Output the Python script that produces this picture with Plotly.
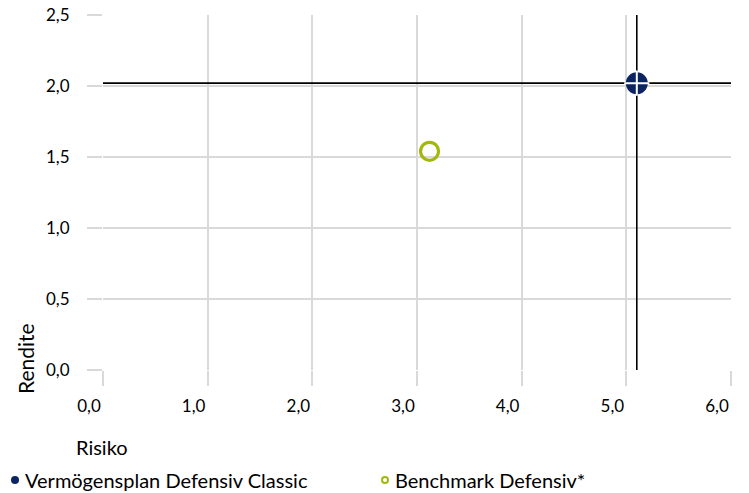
import plotly.graph_objects as go

series_names = ["Vermögensplan Defensiv Classic", "Benchmark Defensiv*"]
risiko = [5.10, 3.12]
rendite = [2.02, 1.54]
colors = ["#0c2461", "#a4b70c"]
x_ticks = [0, 1, 2, 3, 4, 5, 6]
x_ticklabels = ["0,0", "1,0", "2,0", "3,0", "4,0", "5,0", "6,0"]
y_ticks = [0, 0.5, 1.0, 1.5, 2.0, 2.5]
y_ticklabels = ["0,0", "0,5", "1,0", "1,5", "2,0", "2,5"]
x_range = [0, 6]
y_range = [0, 2.5]

FONT = "Lato"
fig = go.Figure()

# crosshair via error bars for main series
fig.add_trace(go.Scatter(
    x=[risiko[0]], y=[rendite[0]], mode="markers",
    marker=dict(size=22, color=colors[0], line=dict(width=0)),
    error_x=dict(type="data", symmetric=False, array=[x_range[1] - risiko[0] + 0.02],
                 arrayminus=[risiko[0] - x_range[0]], color="black", thickness=1.6, width=0),
    error_y=dict(type="data", symmetric=False, array=[y_range[1] - rendite[0]],
                 arrayminus=[rendite[0] - y_range[0] + 0.01], color="black", thickness=1.6, width=0),
    showlegend=False, cliponaxis=False, hoverinfo="skip"))
fig.add_trace(go.Scatter(
    x=[risiko[0]], y=[rendite[0]], mode="markers",
    marker=dict(size=18, symbol="cross-thin-open", color="white", line=dict(width=2, color="white")),
    showlegend=False, cliponaxis=False, hoverinfo="skip"))
fig.add_trace(go.Scatter(
    x=[risiko[1]], y=[rendite[1]], mode="markers",
    marker=dict(size=18, symbol="circle-open", color=colors[1], line=dict(width=3.2, color=colors[1])),
    showlegend=False, cliponaxis=False, hoverinfo="skip"))

axis_common = dict(
    showgrid=True, gridcolor="#d9d9d9", gridwidth=2,
    zeroline=False, showline=False, automargin=False,
    ticks="outside", ticklen=15, tickcolor="#d9d9d9", tickwidth=2,
    tickfont=dict(family=FONT, size=17, color="#000000"),
)
fig.update_xaxes(range=x_range, tickvals=x_ticks, ticktext=x_ticklabels,
                 ticklabelshift=-14, ticklabelstandoff=6, **axis_common)
fig.update_yaxes(range=y_range, tickvals=y_ticks, ticktext=y_ticklabels,
                 ticklabelstandoff=14, **axis_common)

W, H = 749, 493
ml, mr, mt, mb = 103, 18, 15, 123
pw, ph = W - ml - mr, H - mt - mb

def px_x(x):
    return (x - ml) / pw

def px_y(y):
    return (H - mb - y) / ph

annotations = [
    dict(text="Rendite", x=px_x(25), y=px_y(359), xref="paper", yref="paper",
         textangle=-90, showarrow=False, xanchor="center", yanchor="middle",
         font=dict(family=FONT, size=21, color="#000")),
    dict(text="Risiko", x=px_x(102), y=px_y(447), xref="paper", yref="paper",
         showarrow=False, xanchor="center", yanchor="middle",
         font=dict(family=FONT, size=20, color="#000")),
]
legend_x = [23, 393]
legend_bx = [15, 385]
legend_y = 480
shapes = []
for i, name in enumerate(series_names):
    annotations.append(dict(text=name, x=px_x(legend_x[i]), y=px_y(legend_y), xref="paper", yref="paper",
                            showarrow=False, xanchor="left", yanchor="middle",
                            font=dict(family=FONT, size=20, color="#000")))
    if i == 0:
        shapes.append(dict(type="circle", xref="paper", yref="paper", xsizemode="pixel", ysizemode="pixel",
                           xanchor=px_x(legend_bx[i]), yanchor=px_y(legend_y), x0=-4, x1=4, y0=-4, y1=4,
                           fillcolor=colors[i], line=dict(width=0)))
    else:
        shapes.append(dict(type="circle", xref="paper", yref="paper", xsizemode="pixel", ysizemode="pixel",
                           xanchor=px_x(legend_bx[i]), yanchor=px_y(legend_y), x0=-3, x1=3, y0=-3, y1=3,
                           fillcolor="white", line=dict(width=2, color=colors[i])))

fig.update_layout(
    width=W, height=H, margin=dict(l=ml, r=mr, t=mt, b=mb),
    paper_bgcolor="white", plot_bgcolor="white",
    annotations=annotations, shapes=shapes, showlegend=False,
)
fig.write_html("out.html", config={"displayModeBar": False},
               post_script="document.body.style.margin='0';document.body.style.overflow='hidden';")
